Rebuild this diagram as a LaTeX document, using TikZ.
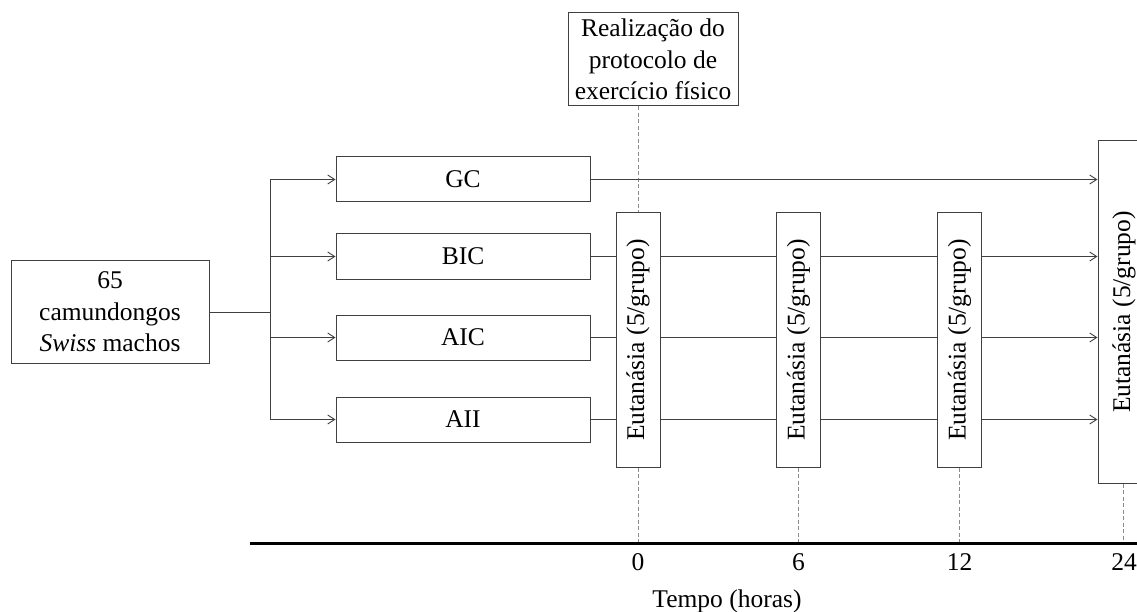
\documentclass[tikz,border=0pt]{standalone}
\usepackage{fontspec}
\setmainfont{Liberation Serif}
\usetikzlibrary{arrows.meta}
\pgfdeclarelayer{bg}
\pgfsetlayers{bg,main}
\begin{document}
\begin{tikzpicture}[x=1pt,y=-1pt,
  font=\fontsize{25.5}{31.5}\selectfont,
  box/.style={draw=black!75,line width=1pt,fill=white,inner sep=0pt,align=center,text=black},
  grp/.style={box,minimum width=254,minimum height=45},
  eut/.style={box,rotate=90,minimum height=44},
  conn/.style={draw=black!75,line width=0.9pt},
  arr/.style={conn,-{Straight Barb[length=7pt,width=9pt]}},
  dsh/.style={draw=black!45,line width=0.7pt,dash pattern=on 4pt off 2.5pt},
  lbl/.style={inner sep=0pt,anchor=base}]
\useasboundingbox (0,0) rectangle (1137,612);
\clip (0,0) rectangle (1137,612);
% source and groups
\node[box,minimum width=198,minimum height=102] (src) at (110,312) {65\\camundongos\\\textit{Swiss} machos};
\node[grp] (gc)  at (463,179.5) {GC};
\node[grp] (bic) at (463,256.5) {BIC};
\node[grp] (aic) at (463,337.5) {AIC};
\node[grp] (aii) at (463,419.5) {AII};
\coordinate (br) at (270,312);
% protocol
\node[box,minimum width=170,minimum height=93] (real) at (653,59.5) {Realização do\\protocolo de\\exercício físico};
% final euthanasia (rotated: north = left side, east = top, west = bottom)
\node[eut,minimum width=342,minimum height=52] (e24) at (1124,312) {Eutanásia (5/grupo)};
% connectors
\draw[conn] (src.east) -- (br);
\draw[conn] (br |- gc.west) -- (br |- aii.west);
\foreach \g in {gc,bic,aic,aii}{
  \draw[arr] (br |- \g.west) -- (\g.west);
  \draw[arr] (\g.east) -- (\g.east -| e24.north);
}
% intermediate euthanasia
\node[eut,minimum width=254] (e0)  at (638,340) {Eutanásia (5/grupo)};
\node[eut,minimum width=254] (e6)  at (798.5,340) {Eutanásia (5/grupo)};
\node[eut,minimum width=254] (e12) at (959.5,340) {Eutanásia (5/grupo)};
% axis
\coordinate (axL) at (250,543);
\coordinate (axR) at (1140,543);
\coordinate (t0) at (638,543);
\coordinate (t6) at (798.5,543);
\coordinate (t12) at (959.5,543);
\coordinate (t24) at (1123,543);
\draw[line width=3pt] (axL) -- (axR);
\node[lbl] (l0) at (638,570) {0};
\node[lbl] (l6) at (798.5,570) {6};
\node[lbl] (l12) at (959.5,570) {12};
\node[lbl] (l24) at (1124,570) {24};
\node[lbl] (tempo) at (727,607) {Tempo (horas)};
\begin{pgfonlayer}{bg}
  \path[dsh] (real.south -| e0) -- (e0.east);
  \path[dsh] (e0.west) -- (t0);
  \path[dsh] (e6.west) -- (t6);
  \path[dsh] (e12.west) -- (t12);
  \path[dsh] (e24.west -| t24) -- (t24);
\end{pgfonlayer}
\end{tikzpicture}
\end{document}
